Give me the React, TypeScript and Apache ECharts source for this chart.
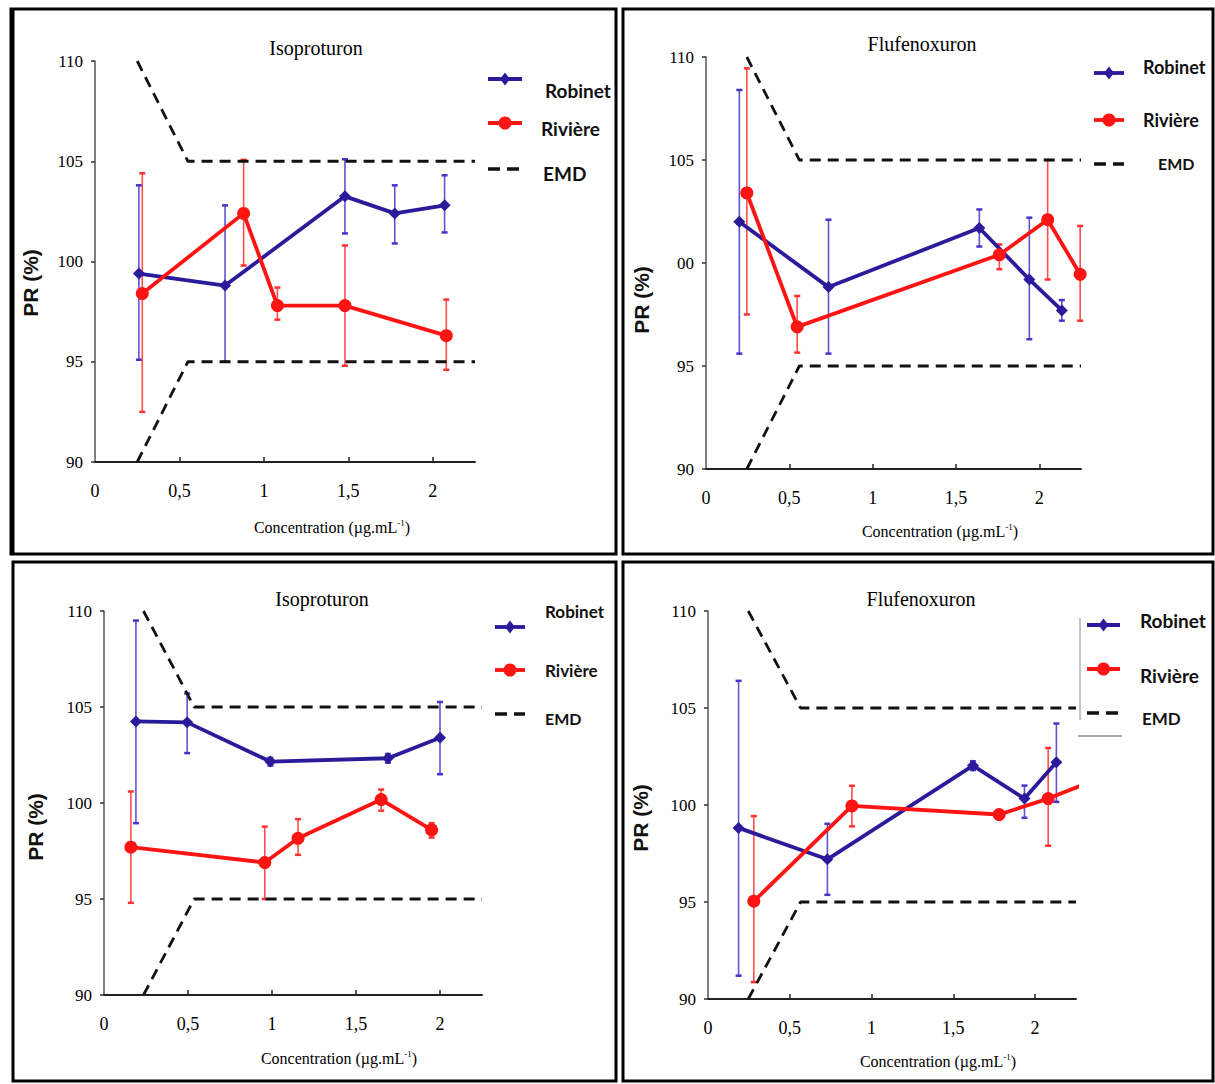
import React, { useEffect, useRef } from "react";
import * as echarts from "echarts";

// ---------- Axis ticks ----------
const X_TICKS = [0, 0.5, 1, 1.5, 2];
const X_TICK_MARKS = [0.5, 1, 1.5, 2];
const Y_TICKS = [90, 95, 100, 105, 110];

// ---------- Titles / names ----------
const TITLES = ["Isoproturon", "Flufenoxuron", "Isoproturon", "Flufenoxuron"];
const SERIES_NAMES = ["Robinet", "Rivière", "EMD"];

// ---------- Panel 1: Isoproturon (top) ----------
const P1_ROBINET_X = [0.26, 0.77, 1.48, 1.775, 2.07];
const P1_ROBINET_Y = [99.4, 98.8, 103.25, 102.4, 102.8];
const P1_ROBINET_LOW = [95.1, 95.0, 101.4, 100.9, 101.45];
const P1_ROBINET_HIGH = [103.8, 102.8, 105.1, 103.8, 104.3];
const P1_RIVIERE_X = [0.28, 0.88, 1.08, 1.48, 2.08];
const P1_RIVIERE_Y = [98.4, 102.4, 97.8, 97.8, 96.3];
const P1_RIVIERE_LOW = [92.5, 99.8, 97.1, 94.8, 94.6];
const P1_RIVIERE_HIGH = [104.4, 105.07, 98.7, 100.8, 98.1];
const P1_EMD_X = [0.25, 0.55, 2.25];

// ---------- Panel 2: Flufenoxuron (top) ----------
const P2_ROBINET_X = [0.2, 0.735, 1.64, 1.94, 2.135];
const P2_ROBINET_Y = [102.0, 98.83, 101.7, 99.2, 97.7];
const P2_ROBINET_LOW = [95.6, 95.6, 100.8, 96.3, 97.2];
const P2_ROBINET_HIGH = [108.4, 102.1, 102.6, 102.2, 98.2];
const P2_RIVIERE_X = [0.245, 0.547, 1.76, 2.05, 2.245];
const P2_RIVIERE_Y = [103.4, 96.9, 100.4, 102.1, 99.45];
const P2_RIVIERE_LOW = [97.5, 95.65, 99.7, 99.2, 97.2];
const P2_RIVIERE_HIGH = [109.45, 98.4, 100.9, 105.0, 101.8];
const P2_EMD_X = [0.245, 0.56, 2.25];

// ---------- Panel 3: Isoproturon (bottom) ----------
const P3_ROBINET_X = [0.19, 0.495, 0.99, 1.69, 2.0];
const P3_ROBINET_Y = [104.25, 104.2, 102.16, 102.33, 103.4];
const P3_ROBINET_LOW = [98.95, 102.6, 101.95, 102.1, 101.5];
const P3_ROBINET_HIGH = [109.5, 105.7, 102.35, 102.55, 105.26];
const P3_RIVIERE_X = [0.16, 0.957, 1.155, 1.65, 1.95];
const P3_RIVIERE_Y = [97.7, 96.9, 98.16, 100.18, 98.6];
const P3_RIVIERE_LOW = [94.8, 95.0, 97.3, 99.6, 98.2];
const P3_RIVIERE_HIGH = [100.6, 98.77, 99.16, 100.7, 98.95];
const P3_EMD_X = [0.235, 0.537, 2.25];

// ---------- Panel 4: Flufenoxuron (bottom) ----------
const P4_ROBINET_X = [0.187, 0.73, 1.62, 1.935, 2.13];
const P4_ROBINET_Y = [98.82, 97.2, 102.03, 100.33, 102.2];
const P4_ROBINET_LOW = [91.2, 95.37, 101.8, 99.34, 100.16];
const P4_ROBINET_HIGH = [106.4, 99.03, 102.25, 101.0, 104.2];
const P4_RIVIERE_X = [0.28, 0.88, 1.78, 2.08, 2.4];
const P4_RIVIERE_Y = [95.04, 99.95, 99.51, 100.33, 101.4];
const P4_RIVIERE_LOW = [90.87, 98.9, 99.3, 97.9];
const P4_RIVIERE_HIGH = [99.43, 100.99, 99.7, 102.94];
const P4_EMD_X = [0.246, 0.566, 2.25];

const EMD_UPPER = [110, 105, 105];
const EMD_LOWER = [90, 95, 95];

// ---------- Styles ----------
const BLUE = "#2B1B9B";
const BLUE_ERR = "#4436C8";
const RED = "#FF1414";
const RED_ERR = "#FF3030";
const SERIF = "'Liberation Serif', 'Times New Roman', serif";
const SANS_LEG = "Lato, 'Open Sans', sans-serif";
const SANS_BOLD = "'Liberation Sans', Arial, sans-serif";

const PANELS = [
  {
    rob: [P1_ROBINET_X, P1_ROBINET_Y, P1_ROBINET_LOW, P1_ROBINET_HIGH],
    riv: [P1_RIVIERE_X, P1_RIVIERE_Y, P1_RIVIERE_LOW, P1_RIVIERE_HIGH],
    emd: P1_EMD_X,
    grid: { left: 95, top: 61, width: 380, height: 401 },
    title: [316, 48],
    yName: [30, 283],
    xName: [332, 527],
    hundredLabel: "100",
    legend: {
      lineX: [488, 522], lineY: [79, 123, 169],
      textX: [545, 541, 543], textY: [90, 128, 173], size: 19, emdSize: 19,
    },
  },
  {
    rob: [P2_ROBINET_X, P2_ROBINET_Y, P2_ROBINET_LOW, P2_ROBINET_HIGH],
    riv: [P2_RIVIERE_X, P2_RIVIERE_Y, P2_RIVIERE_LOW, P2_RIVIERE_HIGH],
    emd: P2_EMD_X,
    grid: { left: 706, top: 57, width: 375, height: 412 },
    title: [922, 44],
    yName: [641, 300],
    xName: [940, 531],
    hundredLabel: "00",
    legend: {
      lineX: [1094, 1124], lineY: [73, 120, 164],
      textX: [1143, 1143, 1158], textY: [67, 120, 163], size: 18, emdSize: 16,
    },
  },
  {
    rob: [P3_ROBINET_X, P3_ROBINET_Y, P3_ROBINET_LOW, P3_ROBINET_HIGH],
    riv: [P3_RIVIERE_X, P3_RIVIERE_Y, P3_RIVIERE_LOW, P3_RIVIERE_HIGH],
    emd: P3_EMD_X,
    grid: { left: 104, top: 611, width: 378, height: 384 },
    title: [322, 599],
    yName: [35, 827],
    xName: [339, 1058],
    hundredLabel: "100",
    legend: {
      lineX: [495, 525], lineY: [627, 670, 714],
      textX: [545, 545, 545], textY: [611, 670, 718], size: 17, emdSize: 16,
    },
  },
  {
    rob: [P4_ROBINET_X, P4_ROBINET_Y, P4_ROBINET_LOW, P4_ROBINET_HIGH],
    riv: [P4_RIVIERE_X, P4_RIVIERE_Y, P4_RIVIERE_LOW, P4_RIVIERE_HIGH],
    emd: P4_EMD_X,
    grid: { left: 708, top: 611, width: 368, height: 388 },
    title: [921, 599],
    yName: [640, 818],
    xName: [938, 1061],
    hundredLabel: "100",
    legend: {
      lineX: [1087, 1120], lineY: [625, 669, 713],
      textX: [1140, 1140, 1142], textY: [620, 675, 718], size: 19, emdSize: 17,
    },
  },
];

function errorSeries(i: number, xs: number[], lo: number[], hi: number[], color: string) {
  const data = lo.map((l, k) => [xs[k], l, hi[k]]);
  return {
    type: "custom",
    xAxisIndex: i,
    yAxisIndex: i,
    z: 1,
    clip: false,
    silent: true,
    data,
    encode: { x: 0, y: [1, 2] },
    renderItem: (params: any, api: any) => {
      const x = api.value(0);
      const p1 = api.coord([x, api.value(1)]);
      const p2 = api.coord([x, api.value(2)]);
      const cap = 3;
      return {
        type: "group",
        children: [
          { type: "line", shape: { x1: p1[0], y1: p1[1], x2: p2[0], y2: p2[1] }, style: { stroke: color, lineWidth: 1.6, opacity: 0.85 } },
          { type: "line", shape: { x1: p1[0] - cap, y1: p1[1], x2: p1[0] + cap, y2: p1[1] }, style: { stroke: color, lineWidth: 2.5 } },
          { type: "line", shape: { x1: p2[0] - cap, y1: p2[1], x2: p2[0] + cap, y2: p2[1] }, style: { stroke: color, lineWidth: 2.5 } },
        ],
      };
    },
  };
}

function buildOption() {
  const series: any[] = [];
  const graphic: any[] = [];

  PANELS.forEach((p, i) => {
    const [rx, ry, rlo, rhi] = p.rob;
    const [vx, vy, vlo, vhi] = p.riv;
    series.push(errorSeries(i, rx, rlo, rhi, BLUE_ERR));
    series.push(errorSeries(i, vx, vlo, vhi, RED_ERR));
    series.push({
      name: SERIES_NAMES[0], type: "line", xAxisIndex: i, yAxisIndex: i, z: 3,
      data: rx.map((x, k) => [x, ry[k]]),
      symbol: "diamond", symbolSize: 12,
      lineStyle: { color: BLUE, width: 3.8 }, itemStyle: { color: BLUE },
    });
    series.push({
      name: SERIES_NAMES[1], type: "line", xAxisIndex: i, yAxisIndex: i, z: 3, clip: true,
      data: vx.map((x, k) =>
        k < vlo.length ? [x, vy[k]] : { value: [x, vy[k]], symbol: "none" }
      ),
      symbol: "circle", symbolSize: 13,
      lineStyle: { color: RED, width: 3.8 }, itemStyle: { color: RED },
    });
    series.push({
      name: SERIES_NAMES[2], type: "line", xAxisIndex: i, yAxisIndex: i, z: 2, symbol: "none",
      data: p.emd.map((x, k) => [x, EMD_UPPER[k]]),
      lineStyle: { color: "#111", width: 2.8, type: [11, 7] },
    });
    series.push({
      name: SERIES_NAMES[2] + " ", type: "line", xAxisIndex: i, yAxisIndex: i, z: 2, symbol: "none",
      data: p.emd.map((x, k) => [x, EMD_LOWER[k]]),
      lineStyle: { color: "#111", width: 2.8, type: [11, 7] },
    });

    // title
    graphic.push({
      type: "text", x: p.title[0], y: p.title[1],
      style: { text: TITLES[i], fontFamily: SERIF, fontSize: 20, fill: "#000", align: "center", verticalAlign: "middle" },
    });
    // y name
    graphic.push({
      type: "text", x: p.yName[0], y: p.yName[1], rotation: Math.PI / 2,
      style: { text: "PR (%)", fontFamily: SANS_BOLD, fontWeight: "bold", fontSize: 21, fill: "#111", align: "center", verticalAlign: "middle" },
    });
    // x name
    graphic.push({
      type: "text", x: p.xName[0], y: p.xName[1],
      style: {
        text: "Concentration (µg.mL{sup|-1})",
        fontFamily: SERIF, fontSize: 16, fill: "#000", align: "center", verticalAlign: "middle",
        rich: { sup: { fontFamily: SERIF, fontSize: 9, fill: "#000", verticalAlign: "top", lineHeight: 18 } },
      },
    });
    // legend
    const L = p.legend;
    const cx = (L.lineX[0] + L.lineX[1]) / 2;
    graphic.push({ type: "line", shape: { x1: L.lineX[0], y1: L.lineY[0], x2: L.lineX[1], y2: L.lineY[0] }, style: { stroke: BLUE, lineWidth: 3.8 } });
    graphic.push({
      type: "polygon",
      shape: { points: [[cx, L.lineY[0] - 6.5], [cx + 5, L.lineY[0]], [cx, L.lineY[0] + 6.5], [cx - 5, L.lineY[0]]] },
      style: { fill: BLUE },
    });
    graphic.push({ type: "line", shape: { x1: L.lineX[0], y1: L.lineY[1], x2: L.lineX[1], y2: L.lineY[1] }, style: { stroke: RED, lineWidth: 3.8 } });
    graphic.push({ type: "circle", shape: { cx, cy: L.lineY[1], r: 6.5 }, style: { fill: RED } });
    graphic.push({ type: "line", shape: { x1: L.lineX[0], y1: L.lineY[2], x2: L.lineX[1], y2: L.lineY[2] }, style: { stroke: "#111", lineWidth: 3.5, lineDash: [12, 7] } });
    SERIES_NAMES.forEach((n, k) => {
      graphic.push({
        type: "text", x: L.textX[k], y: L.textY[k],
        style: { text: n, fontFamily: SANS_LEG, fontWeight: "bold", fontSize: k === 2 ? L.emdSize : L.size, fill: "#111", align: "left", verticalAlign: "middle" },
      });
    });
  });

  // panel 4 legend frame lines
  graphic.push({ type: "line", shape: { x1: 1080, y1: 618, x2: 1080, y2: 720 }, style: { stroke: "#888", lineWidth: 1 } });
  graphic.push({ type: "line", shape: { x1: 1078, y1: 736, x2: 1122, y2: 736 }, style: { stroke: "#aaa", lineWidth: 2 } });

  // panel borders
  const borders = [
    [11, 9, 605, 545],
    [623, 9, 590, 545],
    [13, 562, 603, 519],
    [623, 562, 590, 519],
  ];
  borders.forEach(([x, y, w, h]) => {
    graphic.push({ type: "rect", shape: { x, y, width: w, height: h }, style: { fill: "none", stroke: "#000", lineWidth: 3 }, z: 100 });
  });
  graphic.push({ type: "line", shape: { x1: 13, y1: 9, x2: 13, y2: 554 }, style: { stroke: "#000", lineWidth: 3 }, z: 100 });

  const xFmt = (v: number) => (v === 0 ? "0" : String(v).replace(".", ","));

  return {
    animation: false,
    backgroundColor: "#fff",
    grid: PANELS.map((p) => ({ ...p.grid, containLabel: false, outerBoundsMode: "none" })),
    xAxis: PANELS.map((p, i) => ({
      type: "value", gridIndex: i, min: 0, max: 2.25, interval: 0.5,
      axisLine: { show: true, onZero: false, lineStyle: { color: "#222", width: 2 } },
      axisTick: { show: true, inside: true, length: 5, customValues: X_TICK_MARKS, lineStyle: { color: "#222", width: 1.5 } },
      axisLabel: { show: true, customValues: X_TICKS, formatter: xFmt, margin: 20, fontFamily: SERIF, fontSize: 18, color: "#000" },
      splitLine: { show: false },
    })),
    yAxis: PANELS.map((p, i) => ({
      type: "value", gridIndex: i, min: 90, max: 110, interval: 5,
      axisLine: { show: true, onZero: false, lineStyle: { color: "#555", width: 1.5 } },
      axisTick: { show: true, inside: false, length: 4, customValues: Y_TICKS, lineStyle: { color: "#333", width: 1.5 } },
      axisLabel: {
        show: true, customValues: Y_TICKS, margin: 12, fontFamily: SERIF, fontSize: 17, color: "#000",
        formatter: (v: number) => (v === 100 ? p.hundredLabel : String(v)),
      },
      splitLine: { show: false },
    })),
    series,
    graphic,
  };
}

export default function App() {
  const ref = useRef<HTMLDivElement>(null);
  useEffect(() => {
    if (!ref.current) return;
    const chart = echarts.init(ref.current, undefined, { renderer: "svg" });
    chart.setOption(buildOption() as any);
    return () => chart.dispose();
  }, []);
  return (
    <div
      ref={ref}
      style={{ position: "absolute", left: 0, top: 0, width: 1215, height: 1084, background: "#fff" }}
    />
  );
}
